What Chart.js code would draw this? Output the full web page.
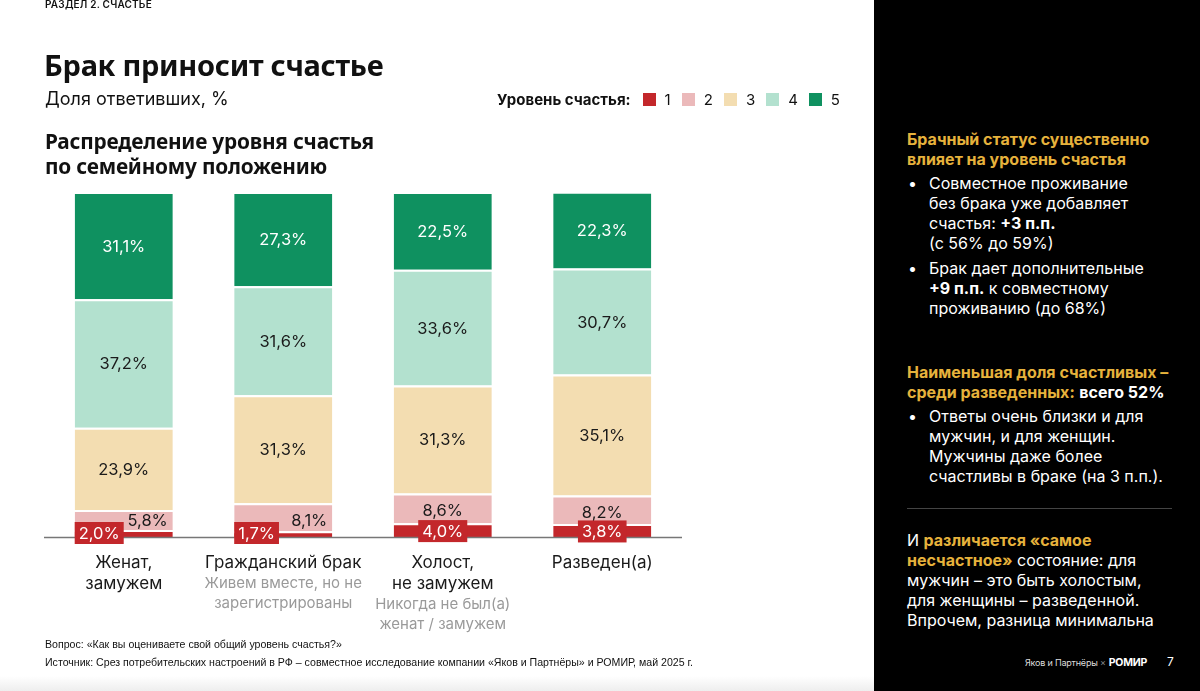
<!DOCTYPE html>
<html>
<head>
<meta charset="utf-8">
<script src="https://cdn.jsdelivr.net/npm/chart.js@4.4.1/dist/chart.umd.min.js"></script>
<style>
  html, body { margin: 0; padding: 0; }
  body { width: 1200px; height: 691px; position: relative; overflow: hidden; background: #fff; font-family: Inter, "Noto Sans", sans-serif; color: #111; }
  .abs { position: absolute; white-space: nowrap; }
  #chartBox { position: absolute; left: 0; top: 0; width: 874px; height: 691px; }
  .section { left: 45px; top: -2px; font-size: 10px; font-weight: 600; letter-spacing: 0.2px; }
  .title { left: 44px; top: 45px; font-family: "Noto Sans", sans-serif; font-size: 29px; font-weight: 700; letter-spacing: -0.3px; }
  .sub { left: 45px; top: 88px; font-size: 18px; }
  .h2 { left: 45px; top: 129px; font-family: "Noto Sans", sans-serif; font-size: 20.8px; font-weight: 700; line-height: 25px; letter-spacing: -0.2px; }
  .legend { left: 497px; top: 90px; font-size: 15px; display: flex; align-items: center; }
  .legend b { margin-right: 12px; }
  .legend .sw { width: 13px; height: 13px; display: inline-block; margin-right: 9px; }
  .legend .lb { margin-right: 11px; }
  .foot { left: 45px; font-family: "Liberation Sans Narrow", "Liberation Sans", sans-serif; font-size: 10.6px; }
  .band { position: absolute; left: 0; top: 676px; width: 874px; height: 15px; background: linear-gradient(#fff, #eee); }
  #panel { position: absolute; left: 874px; top: 0; width: 326px; height: 691px; background: #000; color: #fff; }
  #panel .blk { position: absolute; left: 33px; width: 290px; font-size: 16px; line-height: 20px; }
  #panel .or { color: #E6B23C; font-weight: 700; }
  #panel ul { margin: 4px 0 0 0; padding: 0; list-style: none; }
  #panel li { position: relative; padding-left: 22px; margin-bottom: 5px; }
  #panel li::before { content: "•"; position: absolute; left: 1px; top: 0; }
  #panel .hr { position: absolute; left: 33px; top: 508px; width: 265px; height: 1px; background: #444; }
  #panel .brand { position: absolute; left: 151px; top: 656px; font-size: 9px; color: #ddd; letter-spacing: -0.2px; }
  #panel .brand b { color: #fff; font-size: 10.5px; margin-left: 3px; }
  #panel .num { position: absolute; left: 293px; top: 654px; font-size: 12px; }
</style>
</head>
<body>
<div id="chartBox"><canvas id="c"></canvas></div>
<div class="band"></div>

<div class="abs section">РАЗДЕЛ 2. СЧАСТЬЕ</div>
<div class="abs title">Брак приносит счастье</div>
<div class="abs sub">Доля ответивших, %</div>
<div class="abs h2">Распределение уровня счастья<br>по семейному положению</div>
<div class="abs legend" id="legend"><b>Уровень счастья:</b></div>

<div class="abs foot" style="top:638px">Вопрос: «Как вы оцениваете свой общий уровень счастья?»</div>
<div class="abs foot" style="top:656px">Источник: Срез потребительских настроений в РФ – совместное исследование компании «Яков и Партнёры» и РОМИР, май 2025 г.</div>

<div id="panel">
  <div class="blk" style="top:129px">
    <div class="or">Брачный статус существенно<br>влияет на уровень счастья</div>
    <ul>
      <li>Совместное проживание<br>без брака уже добавляет<br>счастья: <b>+3 п.п.</b><br>(с 56% до 59%)</li>
      <li>Брак дает дополнительные<br><b>+9 п.п.</b> к совместному<br>проживанию (до 68%)</li>
    </ul>
  </div>
  <div class="blk" style="top:362px">
    <div><span class="or">Наименьшая доля счастливых –<br>среди разведенных:</span> <b>всего 52%</b></div>
    <ul>
      <li>Ответы очень близки и для<br>мужчин, и для женщин.<br>Мужчины даже более<br>счастливы в браке (на 3 п.п.).</li>
    </ul>
  </div>
  <div class="hr"></div>
  <div class="blk" style="top:530px">И <span class="or">различается «самое<br>несчастное»</span> состояние: для<br>мужчин – это быть холостым,<br>для женщины – разведенной.<br>Впрочем, разница минимальна</div>
  <div class="brand">Яков и Партнёры <span style="color:#888">×</span><b>РОМИР</b></div>
  <div class="num">7</div>
</div>

<script>
// категории и подписи
const categories = [['Женат,', 'замужем'], ['Гражданский брак'], ['Холост,', 'не замужем'], ['Разведен(а)']];
const subLabels = [[], ['Живем вместе, но не', 'зарегистрированы'], ['Никогда не был(а)', 'женат / замужем'], []];

// уровни счастья 1..5, %
const levels = ['1', '2', '3', '4', '5'];
const level1 = [2.0, 1.7, 4.0, 3.8];
const level2 = [5.8, 8.1, 8.6, 8.2];
const level3 = [23.9, 31.3, 31.3, 35.1];
const level4 = [37.2, 31.6, 33.6, 30.7];
const level5 = [31.1, 27.3, 22.5, 22.3];

const colors = ['#C3272B', '#EBB9BA', '#F3DDB1', '#B3E1CF', '#0F9160'];
const series = [level1, level2, level3, level4, level5];

// легенда
const leg = document.getElementById('legend');
levels.forEach((l, i) => {
    leg.insertAdjacentHTML('beforeend', '<span class="sw" style="background:' + colors[i] + '"></span><span class="lb">' + l + '</span>');
});

function fmt(v) { return v.toFixed(1).replace('.', ',') + '%'; }

const labelPlugin = {
    id: 'labels',
    afterDatasetsDraw(chart) {
        const ctx = chart.ctx;
        const area = chart.chartArea;
        const xs = chart.scales.x;
        ctx.save();
        // базовая линия
        ctx.strokeStyle = '#777';
        ctx.lineWidth = 1.5;
        ctx.beginPath();
        ctx.moveTo(area.left, area.bottom + 0.5);
        ctx.lineTo(area.right, area.bottom + 0.5);
        ctx.stroke();

        ctx.textBaseline = 'middle';
        ctx.font = '16.5px Inter, "Noto Sans", sans-serif';
        categories.forEach((c, i) => {
            const red = chart.getDatasetMeta(0).data[i];
            const pink = chart.getDatasetMeta(1).data[i];
            const left = red.x - red.width / 2;
            const right = red.x + red.width / 2;
            // крупные сегменты
            for (let d = 2; d < 5; d++) {
                const el = chart.getDatasetMeta(d).data[i];
                ctx.fillStyle = d === 4 ? '#fff' : '#1a1a1a';
                ctx.textAlign = 'center';
                ctx.fillText(fmt(series[d][i]), el.x, (el.y + el.base) / 2 + 1);
            }
            const side = level1[i] < 3;
            const txt1 = fmt(level1[i]);
            const w = ctx.measureText(txt1).width + 8;
            let bx, by;
            if (side) {
                bx = left; by = area.bottom - 15;
                ctx.fillStyle = '#1a1a1a';
                ctx.textAlign = 'right';
                ctx.fillText(fmt(level2[i]), right - 5, area.bottom - 16);
            } else {
                bx = red.x - w / 2; by = (red.y + red.base) / 2 - 10;
                ctx.fillStyle = '#1a1a1a';
                ctx.textAlign = 'center';
                ctx.fillText(fmt(level2[i]), pink.x, (pink.y + pink.base) / 2 + 3);
            }
            ctx.fillStyle = colors[0];
            ctx.fillRect(bx, by, w, 22);
            ctx.fillStyle = '#fff';
            ctx.textAlign = 'left';
            ctx.fillText(txt1, bx + 4, by + 12);

            // подписи категорий
            const cx = xs.getPixelForValue(i);
            ctx.textAlign = 'center';
            ctx.font = '17px Inter, "Noto Sans", sans-serif';
            ctx.fillStyle = '#1a1a1a';
            let y = area.bottom + 26;
            c.forEach(line => { ctx.fillText(line, cx, y); y += 21; });
            ctx.font = '15px Inter, "Noto Sans", sans-serif';
            ctx.fillStyle = '#9a9a9a';
            y -= 1;
            subLabels[i].forEach(line => { ctx.fillText(line, cx, y); y += 20; });
            ctx.font = '16.5px Inter, "Noto Sans", sans-serif';
        });
        ctx.restore();
    }
};

new Chart(document.getElementById('c').getContext('2d'), {
    type: 'bar',
    data: {
        labels: categories.map(c => c.join(' ')),
        datasets: series.map((s, i) => ({
            label: levels[i],
            data: s,
            backgroundColor: colors[i],
            borderColor: '#fff',
            borderWidth: { top: 2, bottom: 0, left: 0, right: 0 },
            borderSkipped: false,
            categoryPercentage: 1,
            barPercentage: 0.615
        }))
    },
    options: {
        responsive: true,
        maintainAspectRatio: false,
        animation: false,
        layout: { padding: { left: 44, right: 192, top: 192, bottom: 154 } },
        plugins: { legend: { display: false }, tooltip: { enabled: false } },
        scales: {
            x: { stacked: true, display: false },
            y: { stacked: true, display: false, min: 0, max: 100 }
        }
    },
    plugins: [labelPlugin]
});
</script>
</body>
</html>
